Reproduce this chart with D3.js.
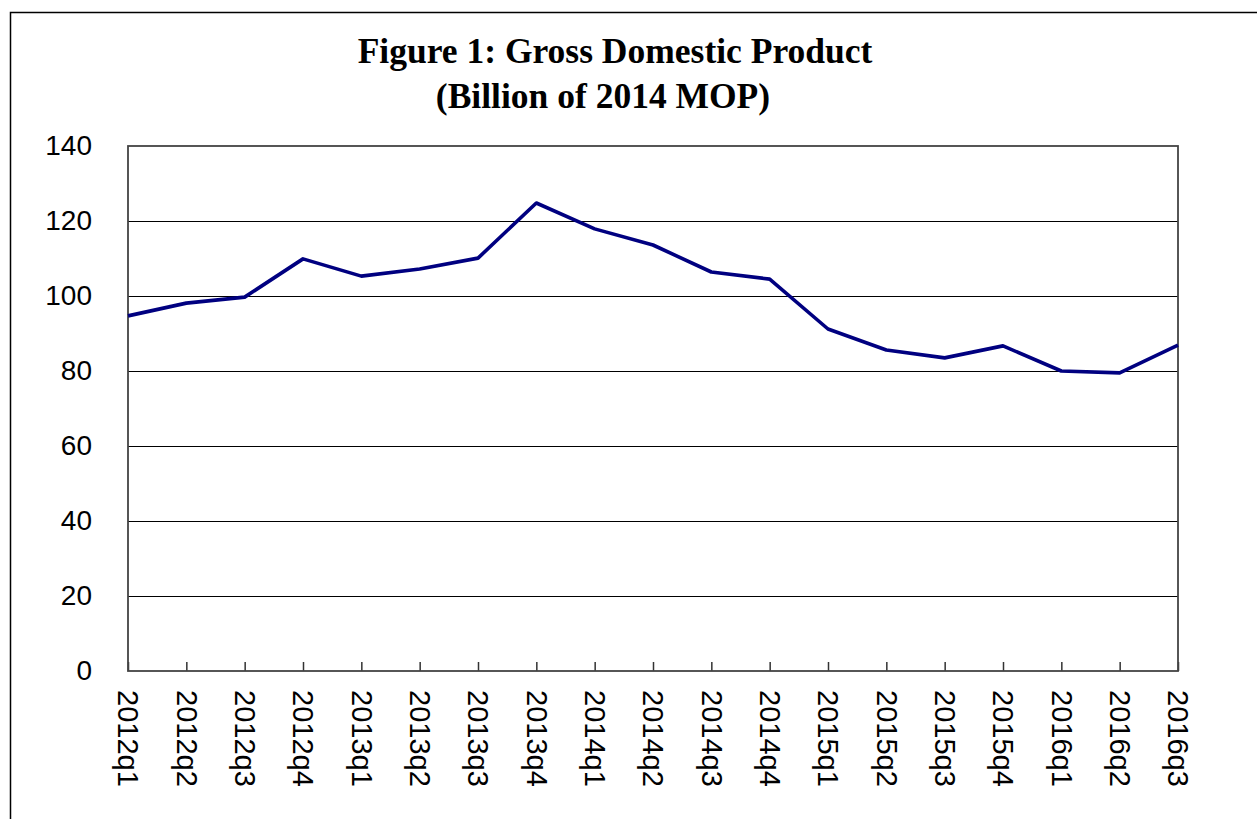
<!DOCTYPE html>
<html>
<head>
<meta charset="utf-8">
<script src="https://cdnjs.cloudflare.com/ajax/libs/d3/7.8.5/d3.min.js"></script>
<style>
  body { margin: 0; background: #fff; }
  svg { display: block; }
</style>
</head>
<body>
<div id="chart"></div>
<script>
    // chart data
    var quarters = ['2012q1', '2012q2', '2012q3', '2012q4',
                    '2013q1', '2013q2', '2013q3', '2013q4',
                    '2014q1', '2014q2', '2014q3', '2014q4',
                    '2015q1', '2015q2', '2015q3', '2015q4',
                    '2016q1', '2016q2', '2016q3'];
    var gdp      = [94.7, 98.1, 99.7, 109.9,
                    105.3, 107.2, 110.1, 124.8,
                    117.9, 113.6, 106.4, 104.5,
                    91.2, 85.6, 83.5, 86.7,
                    80.0, 79.5, 86.9];
    var yTicks   = [0, 20, 40, 60, 80, 100, 120, 140];
    var titles   = ['Figure 1: Gross Domestic Product', '(Billion of 2014 MOP)'];

    var WIDTH  = 1257;
    var HEIGHT = 819;
    var plot   = {left: 128, top: 146, right: 1178, bottom: 671};

    var svg = d3.select('#chart').append('svg')
        .attr('width', WIDTH)
        .attr('height', HEIGHT);

    // outer frame
    svg.append('rect')
        .attr('x', 10.5).attr('y', 12.5)
        .attr('width', WIDTH).attr('height', HEIGHT)
        .attr('fill', 'none')
        .attr('stroke', '#000')
        .attr('stroke-width', 1.5);

    // titles
    svg.append('text')
        .attr('x', 615).attr('y', 63)
        .attr('text-anchor', 'middle')
        .style('font-family', '"Liberation Serif", "Times New Roman", serif')
        .style('font-weight', 'bold')
        .style('font-size', '35.5px')
        .text(titles[0]);

    svg.append('text')
        .attr('x', 603).attr('y', 108)
        .attr('text-anchor', 'middle')
        .style('font-family', '"Liberation Serif", "Times New Roman", serif')
        .style('font-weight', 'bold')
        .style('font-size', '35.5px')
        .text(titles[1]);

    var x = d3.scalePoint()
        .domain(quarters)
        .range([plot.left, plot.right])
        .padding(0);

    var y = d3.scaleLinear()
        .domain([0, 140])
        .range([plot.bottom, plot.top]);

    // gridlines
    svg.append('g')
        .selectAll('line')
        .data(yTicks.filter(function(d) { return d > 0 && d < 140; }))
        .enter().append('line')
        .attr('x1', plot.left).attr('x2', plot.right)
        .attr('y1', function(d) { return Math.round(y(d)) + 0.5; })
        .attr('y2', function(d) { return Math.round(y(d)) + 0.5; })
        .attr('stroke', '#000')
        .attr('stroke-width', 1.2);

    // y axis labels
    var yAxis = d3.axisLeft(y).tickValues(yTicks).tickSize(0).tickPadding(36);
    var gy = svg.append('g')
        .attr('transform', 'translate(' + plot.left + ',0)')
        .call(yAxis);
    gy.select('.domain').remove();
    gy.selectAll('text')
        .style('font-family', 'Arial, "Liberation Sans", sans-serif')
        .style('font-size', '28px')
        .attr('fill', '#000');

    // x axis, ticks point up inside the frame
    var xAxis = d3.axisBottom(x).tickSizeInner(-9).tickSizeOuter(0).tickPadding(0);
    var gx = svg.append('g')
        .attr('transform', 'translate(0,' + plot.bottom + ')')
        .call(xAxis);
    gx.select('.domain').remove();
    gx.selectAll('.tick line').attr('stroke', '#333').attr('stroke-width', 1.5);
    gx.selectAll('.tick text')
        .attr('y', 0).attr('dy', '0.35em')
        .attr('x', 0)
        .attr('transform', 'translate(0,19) rotate(90)')
        .attr('text-anchor', 'start')
        .style('font-family', 'Arial, "Liberation Sans", sans-serif')
        .style('font-size', '29px')
        .attr('fill', '#000');

    // plot frame
    svg.append('rect')
        .attr('x', plot.left).attr('y', plot.top)
        .attr('width', plot.right - plot.left)
        .attr('height', plot.bottom - plot.top)
        .attr('fill', 'none')
        .attr('stroke', '#444')
        .attr('stroke-width', 1.8);

    // series
    var line = d3.line()
        .x(function(d, i) { return x(quarters[i]); })
        .y(function(d) { return y(d); });

    svg.append('path')
        .datum(gdp)
        .attr('d', line)
        .attr('fill', 'none')
        .attr('stroke', '#000080')
        .attr('stroke-width', 3.6)
        .attr('stroke-linejoin', 'round');
</script>
</body>
</html>
